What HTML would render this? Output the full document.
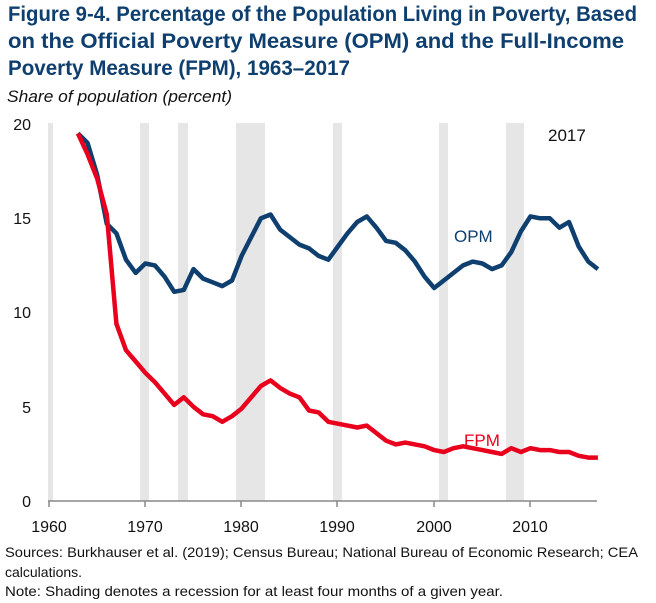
<!DOCTYPE html>
<html><head><meta charset="utf-8"><style>
html,body{margin:0;padding:0;background:#fff;}
svg{display:block;font-family:"Liberation Sans",sans-serif;}
</style></head><body>
<svg width="656" height="603" viewBox="0 0 656 603" xmlns="http://www.w3.org/2000/svg">
<g font-weight="bold" fill="#0e3f6f" font-size="21">
<text x="8" y="21" textLength="629" lengthAdjust="spacingAndGlyphs">Figure 9-4. Percentage of the Population Living  in Poverty, Based</text>
<text x="8" y="48" textLength="616" lengthAdjust="spacingAndGlyphs">on the Official Poverty Measure (OPM) and the Full-Income</text>
<text x="8" y="75" textLength="342" lengthAdjust="spacingAndGlyphs">Poverty Measure (FPM), 1963–2017</text>
</g>
<text x="7" y="102" font-size="17" font-style="italic" fill="#111" textLength="225" lengthAdjust="spacingAndGlyphs">Share of population (percent)</text>
<g fill="#e6e6e6">
<rect x="48" y="123" width="5" height="378"/>
<rect x="140" y="123" width="9" height="378"/>
<rect x="178" y="123" width="10" height="378"/>
<rect x="236" y="123" width="29" height="378"/>
<rect x="333" y="123" width="9" height="378"/>
<rect x="439" y="123" width="9" height="378"/>
<rect x="506" y="123" width="18" height="378"/>
</g>
<line x1="48" y1="501" x2="597" y2="501" stroke="#888" stroke-width="1.5"/>
<g stroke="#888" stroke-width="1.5">
<line x1="49" y1="501" x2="49" y2="507"/><line x1="145" y1="501" x2="145" y2="507"/>
<line x1="241" y1="501" x2="241" y2="507"/><line x1="337" y1="501" x2="337" y2="507"/>
<line x1="434" y1="501" x2="434" y2="507"/><line x1="530" y1="501" x2="530" y2="507"/>
</g>
<g font-size="16" fill="#111" text-anchor="end">
<text x="31" y="130">20</text><text x="31" y="224">15</text><text x="31" y="318">10</text>
<text x="31" y="413">5</text><text x="31" y="507">0</text>
</g>
<g font-size="16" fill="#111" text-anchor="middle">
<text x="49" y="532">1960</text><text x="145" y="532">1970</text><text x="241" y="532">1980</text>
<text x="337" y="532">1990</text><text x="434" y="532">2000</text><text x="530" y="532">2010</text>
</g>
<text x="548" y="141" font-size="17" fill="#111">2017</text>
<text x="454" y="242" font-size="17" fill="#0e3f6f">OPM</text>
<text x="464" y="446" font-size="17" fill="#e8001c">FPM</text>
<polyline id="opm" fill="none" stroke="#0e3f6f" stroke-width="4.5" stroke-linejoin="round"/>
<polyline id="fpm" fill="none" stroke="#e8001c" stroke-width="4.5" stroke-linejoin="round"/>
<g font-size="14" fill="#111">
<text x="5" y="557" textLength="633" lengthAdjust="spacingAndGlyphs">Sources: Burkhauser et al. (2019); Census Bureau; National Bureau of Economic Research; CEA</text>
<text x="5" y="577">calculations.</text>
<text x="5" y="596" textLength="498" lengthAdjust="spacingAndGlyphs">Note: Shading denotes a recession for at least four months of a given year.</text>
</g>
</svg>
<script>
var opm=[19.5,19.0,17.3,14.7,14.2,12.8,12.1,12.6,12.5,11.9,11.1,11.2,12.3,11.8,11.6,11.4,11.7,13.0,14.0,15.0,15.2,14.4,14.0,13.6,13.4,13.0,12.8,13.5,14.2,14.8,15.1,14.5,13.8,13.7,13.3,12.7,11.9,11.3,11.7,12.1,12.5,12.7,12.6,12.3,12.5,13.2,14.3,15.1,15.0,15.0,14.5,14.8,13.5,12.7,12.3];
var fpm=[19.5,18.4,17.1,15.2,9.4,8.0,7.4,6.8,6.3,5.7,5.1,5.5,5.0,4.6,4.5,4.2,4.5,4.9,5.5,6.1,6.4,6.0,5.7,5.5,4.8,4.7,4.2,4.1,4.0,3.9,4.0,3.6,3.2,3.0,3.1,3.0,2.9,2.7,2.6,2.8,2.9,2.8,2.7,2.6,2.5,2.8,2.6,2.8,2.7,2.7,2.6,2.6,2.4,2.3,2.3];
function pts(a){return a.map(function(v,i){return (49+(i+3)*9.63).toFixed(1)+","+(501-v*18.85).toFixed(1);}).join(" ");}
document.getElementById("opm").setAttribute("points",pts(opm));
document.getElementById("fpm").setAttribute("points",pts(fpm));
</script>
</body></html>
